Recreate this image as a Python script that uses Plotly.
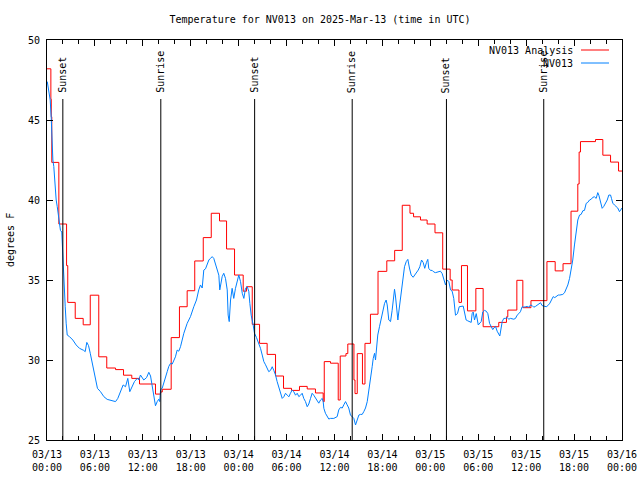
import pandas as pd
import plotly.graph_objects as go

START = pd.Timestamp("2025-03-13 00:00")

# Analysis (stepped) : minutes since start, value in deg F
analysis_min = [0, 29, 32, 36, 89, 147, 156, 212, 272, 325, 389, 449, 515, 575, 637, 695,
                815, 853, 866, 933, 995, 1053, 1110, 1174, 1234, 1296, 1349, 1409, 1474, 1499,
                1542, 1597, 1654, 1717, 1777, 1837, 1897, 1955, 2017, 2075, 2083, 2130, 2188,
                2203, 2246, 2260, 2306, 2314, 2331, 2370, 2389, 2430, 2487, 2553, 2612, 2669,
                2727, 2754, 2806, 2856, 2915, 2973, 3029, 3044, 3095, 3114, 3159, 3222, 3277,
                3394, 3452, 3462, 3530, 3575, 3636, 3756, 3818, 3877, 3937, 3988, 3998, 4008,
                4121, 4176, 4234, 4294, 4320]
analysis_val = [48.2, 46.3, 45.2, 42.35, 38.5, 35.9, 33.6, 32.6, 32.2, 34.05, 30.2, 29.5, 29.4,
                29.05, 28.85, 28.5, 27.87, 28.0, 28.17, 31.4, 33.33, 34.33, 36.19, 37.65, 39.17,
                38.69, 36.94, 35.31, 34.3, 34.58, 32.23, 31.04, 30.35, 29.0, 28.23, 28.1, 28.35,
                28.19, 27.94, 27.4, 29.9, 29.8, 27.5, 30.25, 30.4, 31.0, 28.75, 27.9, 30.4, 28.5,
                31.04, 32.86, 35.54, 36.2, 36.85, 39.67, 39.17, 38.95, 38.75, 38.5, 37.95, 35.68,
                35.0, 34.375, 33.6, 35.9, 33.07, 34.47, 32.08, 32.35, 32.7, 33.12, 34.98, 33.27,
                33.71, 36.15, 35.57, 36.02, 39.3, 41.0, 43.0, 43.65, 43.78, 42.8, 42.37, 41.81,
                41.81]

# Station observations
obs_min = [2, 11, 24, 32, 39, 44, 51, 62, 69, 77, 86, 94, 101, 111, 119, 126, 137, 144, 152,
           169, 194, 219, 244, 276, 287, 299, 312, 325, 337, 352, 370, 379, 402, 427, 452, 477,
           515, 532, 552, 572, 590, 607, 622, 640, 657, 678, 690, 702, 715, 727, 748, 765, 778,
           785, 802, 815, 828, 840, 847, 853, 866, 878, 890, 903, 915, 928, 941, 965, 978, 990,
           1003, 1016, 1028, 1053, 1078, 1103, 1123, 1140, 1153, 1166, 1178, 1191, 1204, 1216,
           1228, 1241, 1253, 1266, 1279, 1291, 1298, 1309, 1316, 1328, 1341, 1354, 1361, 1369,
           1379, 1391, 1403, 1416, 1429, 1441, 1454, 1467, 1479, 1491, 1504, 1516, 1524, 1534,
           1549, 1559, 1574, 1591, 1604, 1617, 1629, 1642, 1654, 1666, 1679, 1692, 1704, 1717,
           1729, 1742, 1754, 1767, 1779, 1792, 1805, 1817, 1829, 1842, 1854, 1867, 1880, 1892,
           1905, 1917, 1929, 1942, 1955, 1967, 1980, 1992, 2004, 2017, 2030, 2042, 2055, 2068,
           2075, 2080, 2092, 2105, 2117, 2130, 2155, 2180, 2192, 2205, 2218, 2230, 2243, 2255,
           2267, 2280, 2293, 2305, 2318, 2331, 2343, 2355, 2368, 2380, 2393, 2406, 2418, 2430,
           2443, 2451, 2461, 2468, 2476, 2485, 2498, 2511, 2523, 2536, 2548, 2556, 2568, 2581,
           2593, 2601, 2611, 2618, 2626, 2636, 2643, 2656, 2663, 2676, 2686, 2699, 2711, 2723,
           2736, 2751, 2763, 2776, 2789, 2801, 2814, 2826, 2838, 2851, 2861, 2868, 2881, 2894,
           2906, 2919, 2932, 2944, 2956, 2969, 2981, 2994, 3007, 3019, 3032, 3044, 3056, 3061,
           3069, 3084, 3097, 3127, 3137, 3149, 3161, 3174, 3187, 3194, 3202, 3212, 3225, 3240,
           3249, 3262, 3274, 3287, 3300, 3312, 3325, 3337, 3349, 3357, 3370, 3382, 3394, 3402,
           3412, 3420, 3432, 3445, 3457, 3470, 3482, 3495, 3507, 3520, 3532, 3545, 3557, 3570,
           3582, 3595, 3608, 3620, 3633, 3645, 3657, 3670, 3683, 3695, 3708, 3720, 3733, 3751,
           3763, 3778, 3790, 3803, 3815, 3828, 3841, 3853, 3866, 3875, 3888, 3901, 3913, 3926,
           3938, 3950, 3963, 3976, 3988, 4001, 4013, 4026, 4038, 4051, 4063, 4076, 4089, 4101,
           4113, 4126, 4138, 4146, 4158, 4171, 4183, 4196, 4209, 4221, 4234, 4241, 4251, 4263,
           4276, 4288, 4301, 4313, 4320]
obs_val = [47.4, 46.98, 46.25, 45.1, 43.1, 42.5, 42.1, 40.4, 40.0, 39.58, 38.96, 38.48, 38.1,
           38.0, 36.35, 34.58, 33.33, 32.3, 31.56, 31.46, 31.25, 30.94, 30.73, 30.6, 30.52, 31.1,
           30.9, 30.42, 29.9, 29.38, 28.65, 28.23, 28.02, 27.71, 27.54, 27.5, 27.4, 27.6, 28.02,
           28.44, 28.33, 28.85, 28.02, 28.3, 28.65, 28.85, 28.75, 29.06, 28.9, 28.75, 28.9,
           29.23, 29.0, 28.65, 27.92, 27.14, 27.4, 27.55, 27.4, 28.12, 28.25, 28.54, 28.9, 29.27,
           29.6, 29.79, 29.75, 30.2, 30.62, 30.55, 30.83, 31.25, 31.67, 32.29, 32.71, 33.33,
           33.75, 34.38, 34.69, 34.5, 35.62, 35.7, 35.94, 36.25, 36.35, 36.46, 36.35, 35.94,
           35.62, 35.3, 34.38, 34.8, 35.21, 35.42, 35.1, 34.38, 32.81, 32.4, 33.75, 34.48,
           33.85, 34.48, 35.0, 35.31, 34.9, 34.17, 33.85, 34.48, 34.58, 34.3, 33.54, 32.8,
           32.19, 31.67, 31.4, 31.04, 30.73, 30.31, 29.9, 29.7, 29.48, 29.27, 29.35, 29.58,
           29.35, 29.06, 28.65, 28.33, 28.02, 27.6, 27.7, 27.92, 27.8, 27.7, 27.92, 28.12,
           28.02, 27.8, 27.92, 27.71, 27.8, 27.92, 27.6, 27.4, 27.08, 27.25, 27.6, 27.92, 27.8,
           27.6, 27.4, 27.3, 27.5, 27.6, 27.4, 26.98, 26.67, 26.46, 26.31, 26.35, 26.35, 26.46,
           26.88, 27.04, 27.0, 27.2, 27.4, 27.2, 27.0, 26.56, 26.42, 26.35, 25.94, 26.25, 26.56,
           26.6, 26.6, 26.77, 27.0, 27.4, 28.02, 28.65, 29.58, 30.1, 30.42, 30.0, 30.73, 31.56,
           32.08, 32.6, 33.12, 33.54, 33.75, 33.44, 32.5, 32.4, 33.1, 33.85, 34.42, 34.0, 33.2,
           32.5, 33.0, 33.85, 34.58, 35.21, 35.83, 36.15, 36.29, 35.75, 35.31, 35.17, 35.31,
           35.4, 35.62, 35.83, 36.25, 36.1, 35.73, 36.1, 36.29, 35.73, 35.6, 35.6, 35.5, 35.46,
           35.5, 35.55, 35.55, 35.4, 35.1, 34.69, 35.0, 34.9, 34.38, 34.3, 33.85, 33.3, 32.8,
           32.9, 33.33, 33.37, 32.9, 32.5, 32.45, 32.4, 32.35, 32.9, 33.0, 32.5, 32.9, 32.19,
           32.3, 32.4, 33.0, 33.1, 33.05, 32.9, 32.29, 32.08, 31.9, 32.0, 32.1, 31.8, 31.56,
           31.5, 32.0, 32.4, 32.6, 32.6, 32.65, 32.55, 32.6, 32.55, 32.55, 32.6, 32.8, 32.9,
           33.02, 33.33, 33.3, 33.33, 33.35, 33.3, 33.44, 33.4, 33.3, 33.35, 33.45, 33.5, 33.58,
           33.4, 33.35, 33.33, 33.4, 33.55, 33.75, 33.96, 33.9, 34.0, 34.06, 34.06, 34.1, 34.1,
           34.2, 34.42, 34.69, 35.1, 35.62, 36.25, 37.19, 38.12, 38.75, 39.06, 39.1, 39.33,
           39.35, 39.79, 39.85, 40.0, 40.05, 40.17, 40.2, 40.1, 40.46, 40.3, 39.8, 39.48, 39.6,
           39.8, 40.0, 40.31, 40.31, 40.1, 39.8, 39.69, 39.6, 39.5, 39.27, 39.48, 39.5]

# Sun events (UTC)
sun_times = ["2025-03-13 01:59", "2025-03-13 14:15", "2025-03-14 02:00",
             "2025-03-14 14:13", "2025-03-15 02:01", "2025-03-15 14:12"]
sun_labels = ["Sunset", "Sunrise", "Sunset", "Sunrise", "Sunset", "Sunrise"]

series_names = ["NV013 Analysis", "NV013"]
series_colors = ["#ff0000", "#0080ff"]

FONT = "DejaVu Sans Mono"

W, H = 640, 480
PL, PR, PT, PB = 47, 622, 40, 440   # plot box in page px
PW, PH = PR - PL, PB - PT


def px_x(x):  # page x -> paper x
    return (x - PL) / PW


def px_y(y):  # page y -> paper y
    return (PB - y) / PH


t_analysis = START + pd.to_timedelta(analysis_min, unit="m")
t_obs = START + pd.to_timedelta(obs_min, unit="m")

fig = go.Figure()
fig.add_trace(go.Scatter(x=t_analysis, y=analysis_val, mode="lines", line_shape="hv",
                         line=dict(color=series_colors[0], width=1), name=series_names[0],
                         showlegend=False))
fig.add_trace(go.Scatter(x=t_obs, y=obs_val, mode="lines",
                         line=dict(color=series_colors[1], width=1), name=series_names[1],
                         showlegend=False))

LINE_TOP = px_y(99)
TEXT_BOTTOM = px_y(95)
for t, lab in zip(sun_times, sun_labels):
    fig.add_shape(type="line", xref="x", yref="paper", x0=t, x1=t, y0=0, y1=LINE_TOP,
                  line=dict(color="black", width=1))
    fig.add_annotation(x=t, y=TEXT_BOTTOM, xref="x", yref="paper", text=lab, textangle=-90,
                       showarrow=False, xanchor="center", yanchor="bottom",
                       font=dict(family=FONT, size=10, color="black"))

# legend drawn gnuplot-style (text left of sample)
for i, (nm, col) in enumerate(zip(series_names, series_colors)):
    yp = px_y(50 + 13 * i)
    fig.add_annotation(x=px_x(575), y=yp, xref="paper", yref="paper", text=nm,
                       showarrow=False, xanchor="right", yanchor="middle",
                       font=dict(family=FONT, size=10, color="black"))
    fig.add_shape(type="line", xref="paper", yref="paper", x0=px_x(581),
                  x1=px_x(609), y0=yp, y1=yp, line=dict(color=col, width=1))

# y-axis title
fig.add_annotation(x=px_x(10), y=px_y(240), xref="paper", yref="paper", text="degrees F",
                   textangle=-90, showarrow=False, xanchor="center", yanchor="middle",
                   font=dict(family=FONT, size=10, color="black"))

fig.update_layout(
    width=W, height=H,
    margin=dict(l=PL, r=W - PR, t=PT, b=H - PB, autoexpand=False),
    paper_bgcolor="white", plot_bgcolor="white",
    font=dict(family=FONT, size=10, color="black"),
    title=dict(text="Temperature for NV013 on 2025-Mar-13 (time in UTC)",
               x=0.5, xanchor="center",
               y=1 - 19 / H, yanchor="middle", font=dict(family=FONT, size=10)),
    showlegend=False,
)
fig.update_xaxes(
    type="date", range=["2025-03-13 00:00", "2025-03-16 00:00"], automargin=False,
    dtick=6 * 3600 * 1000, tick0="2025-03-13 00:00", tickformat="%m/%d<br>%H:%M",
    ticks="inside", ticklen=6, tickcolor="black", showline=True, linecolor="black",
    linewidth=1, mirror="ticks", showgrid=False, zeroline=False, ticklabelstandoff=5,
    minor=dict(dtick=2 * 3600 * 1000, ticks="inside", ticklen=4, tickcolor="black",
               showgrid=False),
    tickfont=dict(family=FONT, size=10),
)
fig.update_yaxes(
    range=[25, 50], dtick=5, ticks="inside", ticklen=6, tickcolor="black", showline=True,
    linecolor="black", linewidth=1, mirror="ticks", showgrid=False, zeroline=False,
    automargin=False, ticklabelstandoff=4,
    tickfont=dict(family=FONT, size=10),
)

fig.write_html("out.html",
               config={"displayModeBar": False},
               post_script="document.body.style.margin='0';"
                           "document.body.style.overflow='hidden';")
